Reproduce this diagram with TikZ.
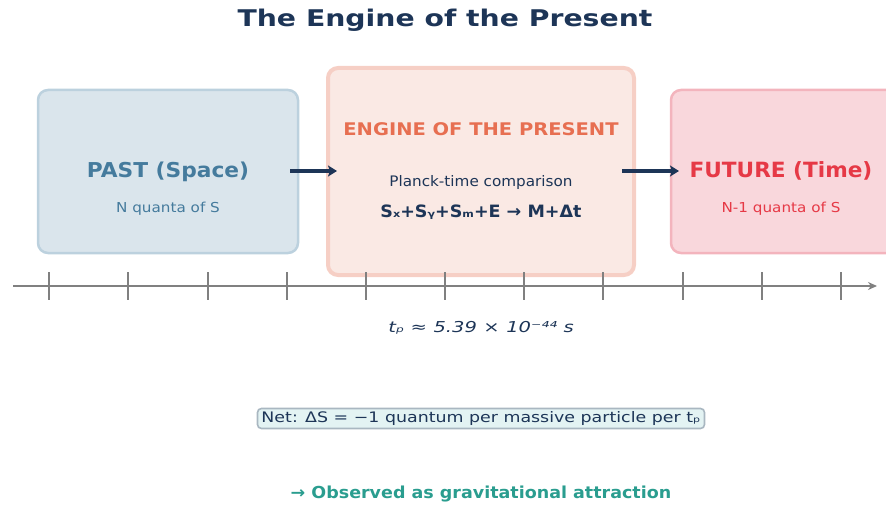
\documentclass[tikz,border=0pt]{standalone}
\usepackage{fontspec}
\setmainfont{DejaVu Sans}
\usetikzlibrary{arrows.meta}
\definecolor{navy}{HTML}{1D3557}
\definecolor{steel}{HTML}{457B9D}
\definecolor{redc}{HTML}{E63946}
\definecolor{orangec}{HTML}{E76F51}
\definecolor{teal}{HTML}{2A9D8F}
\definecolor{pastfill}{HTML}{DAE5EC}
\definecolor{pastedge}{HTML}{BCD1DE}
\definecolor{engfill}{HTML}{FAE9E4}
\definecolor{engedge}{HTML}{F6CFC5}
\definecolor{futfill}{HTML}{F9D7DC}
\definecolor{futedge}{HTML}{F3B4BD}
\definecolor{netfill}{HTML}{E3F3F3}
\definecolor{netedge}{HTML}{A9B7C1}
\definecolor{axisc}{HTML}{808080}
\newcommand{\fsx}[2]{\fontsize{#1}{#1}\selectfont\addfontfeatures{FakeStretch=#2}}
\newcommand{\gp}{\hspace{6.5pt}}
\tikzset{
  box/.style={rounded corners=10pt, line width=2.5pt},
  flow/.style={draw=navy, line width=3.2pt, -{Stealth[length=9pt,width=11pt,inset=2pt]}},
  tick/.style={draw=axisc, line width=1.1pt},
  lbl/.style={inner sep=0pt, anchor=base},
}
\begin{document}
\begin{tikzpicture}[x=1pt,y=-1pt]
\useasboundingbox (0,0) rectangle (886,505);
\clip (0,0) rectangle (886,505);
% title
\node[lbl, font=\bfseries\fsx{23}{1.23}, text=navy] (title) at (445,27) {The Engine of the Present};
% boxes
\draw[box, fill=pastfill, draw=pastedge] (38,90) rectangle (298,253);
\coordinate (pastE) at (290,171);
\draw[box, fill=engfill, draw=engedge, line width=4pt] (328,68) rectangle (634,275);
\coordinate (engW) at (337,171);
\coordinate (engE) at (622,171);
\draw[box, fill=futfill, draw=futedge] (671,90) rectangle (905,253);
\coordinate (futW) at (679,171);
% texts
\node[lbl, font=\bfseries\fsx{20.5}{1.06}, text=steel] (past) at (168,178) {PAST (Space)};
\node[lbl, font=\fsx{13.7}{1.11}, text=steel] (pastsub) at (168,213) {N quanta of S};
\node[lbl, font=\bfseries\fsx{17.4}{1.12}, text=orangec] (eng) at (481,136) {ENGINE OF THE PRESENT};
\node[lbl, font=\fsx{14.5}{1.05}, text=navy] (planck) at (481,187) {Planck-time comparison};
\node[lbl, font=\bfseries\fsx{17}{1.03}, text=navy] (eq) at (481,218) {Sₓ+Sᵧ+Sₘ+E → M+Δt};
\node[lbl, font=\bfseries\fsx{21}{1.03}, text=redc] (fut) at (781,178) {FUTURE (Time)};
\node[lbl, font=\fsx{13.7}{1.11}, text=redc] (futsub) at (781,213) {N-1 quanta of S};
% flow arrows
\draw[flow] (pastE) -- (engW);
\draw[flow] (engE) -- (futW);
% timeline
\coordinate (ax0) at (13,286);
\coordinate (ax1) at (877,286);
\foreach \x in {49,128,208,287,366,445,524,603,683,762,841}{
  \draw[tick] (\x,272) -- (\x,300);
}
\draw[draw=axisc, line width=2.4pt, -{Stealth[length=9pt,width=8pt]}] (ax0) -- (ax1);
\node[lbl, font=\itshape\fsx{15}{1.3}, text=navy] (tp) at (481,332) {tₚ\gp≈\gp5.39\gp×\gp10⁻⁴⁴\gp s};
% net box
\node[font=\fsx{14.5}{1.2}, text=navy, fill=netfill, draw=netedge, line width=1.6pt, rounded corners=4pt, inner xsep=4pt, inner ysep=3pt] (net) at (481,418.5) {Net: ΔS = −1 quantum per massive particle per tₚ};
\node[lbl, font=\bfseries\fsx{16.5}{1.06}, text=teal] (obs) at (481,498) {→ Observed as gravitational attraction};
\end{tikzpicture}
\end{document}
